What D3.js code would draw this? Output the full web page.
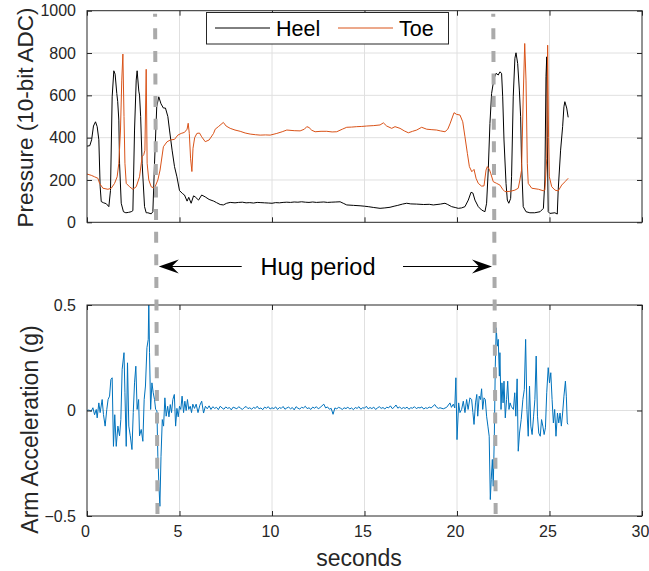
<!DOCTYPE html>
<html lang="en">
<head>
<meta charset="utf-8">
<title>Hug pressure and acceleration</title>
<script src="https://d3js.org/d3.v7.min.js"></script>
<style>
    body { margin: 0; background: #ffffff; }
    svg { display: block; font-family: "Liberation Sans", Arial, Helvetica, sans-serif; }
    .tick text { fill: #262626; font-size: 16px; }
    .tick line { stroke: #262626; }
    .domain { stroke: none; }
</style>
</head>
<body>
<div id="chart"></div>
<script>
"use strict";

// ---- data (seconds, value) ----
var heel = [
    [0,360],[0.15,362],[0.25,390],[0.35,455],[0.46,475],[0.55,452],[0.64,390],[0.71,170],[0.77,98],[0.9,92],
    [1.04,88],[1.18,74],[1.27,150],[1.36,593],[1.45,716],[1.52,700],[1.61,609],[1.66,570],[1.72,483],[1.76,279],
    [1.85,90],[1.97,50],[2.1,45],[2.25,47],[2.39,50],[2.48,55],[2.57,436],[2.66,672],[2.71,716],[2.8,620],
    [2.84,601],[2.9,500],[2.98,279],[3.11,74],[3.2,45],[3.29,45],[3.47,40],[3.56,50],[3.65,279],[3.77,546],
    [3.88,593],[4.0,560],[4.13,540],[4.24,540],[4.37,500],[4.46,436],[4.6,341],[4.73,263],[4.86,215],[5.0,150],
    [5.17,135],[5.27,129],[5.41,100],[5.5,118],[5.63,90],[5.76,125],[5.85,120],[6.03,105],[6.2,129],[6.39,120],
    [6.6,108],[6.85,100],[7.0,93],[7.2,84],[7.37,82],[7.55,90],[7.74,94],[8.0,92],[8.2,94],[8.4,95],
    [8.6,92],[8.8,93],[9.0,91],[9.2,94],[9.4,93],[9.6,92],[9.8,91],[10.0,90],[10.2,93],[10.4,92],
    [10.6,94],[10.8,95],[11.0,94],[11.2,96],[11.4,95],[11.6,97],[11.8,95],[12.0,94],[12.2,96],[12.4,94],
    [12.6,95],[12.8,96],[13.0,94],[13.2,95],[13.45,96],[13.68,97],[13.85,90],[14.04,82],[14.4,80],[14.76,78],
    [15.0,76],[15.2,74],[15.5,70],[15.84,66],[16.1,68],[16.38,71],[16.6,76],[16.8,80],[17.05,86],[17.28,90],
    [17.5,87],[17.82,86],[18.2,84],[18.5,85],[18.72,82],[19.1,86],[19.35,90],[19.5,84],[19.71,74],[19.9,70],
    [20.07,66],[20.25,68],[20.43,74],[20.61,105],[20.76,142],[20.86,138],[20.97,105],[21.15,74],[21.33,58],[21.51,50],
    [21.6,90],[21.69,247],[21.78,467],[21.87,609],[22.0,680],[22.11,704],[22.23,696],[22.32,711],[22.41,704],[22.47,593],
    [22.54,389],[22.65,184],[22.72,105],[22.8,90],[22.9,113],[22.95,215],[23.04,593],[23.13,775],[23.19,801],[23.28,750],
    [23.37,625],[23.44,499],[23.49,279],[23.58,74],[23.73,50],[23.94,45],[24.2,45],[24.49,50],[24.67,66],[24.75,200],
    [24.81,688],[24.85,782],[24.88,400],[24.93,50],[25.02,42],[25.29,45],[25.42,39],[25.47,152],[25.6,341],[25.71,452],
    [25.78,546],[25.83,570],[25.93,540],[26.01,496]
];

var toe = [
    [0,228],[0.23,222],[0.41,215],[0.59,208],[0.68,184],[0.86,161],[1.13,156],[1.31,161],[1.49,184],[1.63,215],
    [1.72,279],[1.81,436],[1.88,672],[1.94,795],[2.0,500],[2.05,279],[2.12,184],[2.3,168],[2.48,156],[2.66,168],
    [2.84,215],[2.98,310],[3.07,320],[3.13,340],[3.2,723],[3.25,279],[3.34,200],[3.47,168],[3.65,161],[3.83,200],
    [3.95,247],[4.13,357],[4.32,380],[4.5,389],[4.73,392],[4.91,412],[5.09,420],[5.27,425],[5.41,440],[5.47,468],
    [5.53,420],[5.6,300],[5.67,240],[5.73,350],[5.82,400],[5.94,420],[6.08,422],[6.2,404],[6.39,381],[6.6,389],
    [6.84,420],[6.93,440],[7.1,452],[7.37,472],[7.52,455],[7.74,444],[8.0,436],[8.28,430],[8.55,422],[8.82,417],
    [9.1,414],[9.36,412],[9.65,413],[9.9,412],[10.26,420],[10.55,428],[10.8,436],[11.2,433],[11.52,432],[11.75,440],
    [11.88,452],[12.0,448],[12.15,435],[12.33,428],[12.65,430],[12.96,430],[13.25,427],[13.5,428],[13.8,440],[14.04,449],
    [14.3,450],[14.58,452],[14.85,453],[15.12,455],[15.5,457],[15.84,460],[16.02,470],[16.2,455],[16.47,444],[16.65,452],
    [16.92,444],[17.15,432],[17.37,423],[17.6,430],[17.82,436],[18.09,449],[18.36,440],[18.6,438],[18.9,436],[19.1,432],
    [19.35,428],[19.5,440],[19.62,465],[19.84,518],[19.98,510],[20.16,507],[20.31,475],[20.43,404],[20.56,326],[20.67,263],
    [20.8,239],[20.92,250],[21.03,208],[21.15,184],[21.33,171],[21.46,172],[21.57,247],[21.64,263],[21.75,250],[21.82,232],
    [21.96,192],[22.14,184],[22.32,176],[22.47,156],[22.59,145],[22.86,146],[23.13,152],[23.31,161],[23.4,200],[23.49,247],
    [23.58,593],[23.66,845],[23.73,672],[23.8,279],[23.85,184],[24.04,161],[24.41,156],[24.66,149],[24.75,152],[24.85,300],
    [24.9,837],[24.95,400],[24.99,215],[25.12,168],[25.3,152],[25.47,148],[25.66,176],[25.84,192],[26.01,208]
];

// arm acceleration, before the hug
var accelStart = [
    [0,0],[0.1,0.002],[0.23,-0.003],[0.32,0.013],[0.41,-0.02],[0.5,0.005],[0.55,-0.035],[0.64,0.036],[0.71,-0.01],[0.82,0.052],
    [0.89,-0.019],[0.98,-0.074],[1.07,0.005],[1.14,0.052],[1.22,0.068],[1.29,0.147],[1.36,0.155],[1.43,-0.17],[1.5,-0.02],[1.58,-0.17],
    [1.67,-0.074],[1.76,-0.12],[1.83,-0.043],[1.9,0.195],[2.0,0.274],[2.05,0.084],[2.12,-0.17],[2.19,0.226],[2.26,-0.074],[2.34,-0.12],
    [2.43,-0.185],[2.5,-0.01],[2.57,0.131],[2.64,0.21],[2.71,0.005],[2.79,0.052],[2.84,-0.12],[2.93,-0.09],[3.02,-0.146],[3.09,0.052],
    [3.16,0.116],[3.24,0.298],[3.31,0.337],[3.34,0.52],[3.38,0.274],[3.44,0.005],[3.51,0.131],[3.58,0.084],[3.65,0.052],[3.71,0.005],
    [3.78,-0.001],[3.83,-0.217],[3.89,-0.359],[3.94,-0.454],[4.0,-0.217],[4.07,-0.043],[4.14,-0.074],[4.21,0.06],[4.28,-0.027],[4.36,0.02],
    [4.43,-0.03],[4.5,0.028],[4.57,-0.01],[4.64,0.052],[4.72,0.076],[4.79,-0.074],[4.86,0.01],[4.93,-0.03],[5.0,0.02],[5.07,0.005],
    [5.14,0.068],[5.22,-0.01],[5.29,0.044],[5.36,0.0],[5.43,0.052],[5.5,0.005],[5.58,0.02],[5.65,-0.01],[5.72,0.03],[5.81,0.01]
];

// during the hug: one reading every 0.1 s from 5.9 s
var accelHugStart = 5.9;
var accelHugStep = 0.1;
var accelHug = [
    0.03,-0.01,0.025,0.044,-0.012,0.02,0.008,0.022,0.005,0.018,
    0.01,0.015,0.004,0.02,0.012,0.006,0.017,0.01,0.014,0.003,
    0.016,0.012,0.008,0.018,0.011,0.005,0.014,0.019,0.009,0.013,
    0.006,0.015,0.01,0.02,0.008,0.012,0.004,0.016,0.011,0.018,
    0.007,0.013,0.009,0.017,0.005,0.014,0.01,0.019,0.006,0.012,
    0.016,0.008,0.014,0.003,0.018,0.011,0.007,0.015,0.012,0.02,
    0.009,0.013,0.005,0.016,0.011,0.018,0.008,0.014,0.022,0.03,
    0.012,0.017,0.006,0.01,-0.018,0.012,0.008,0.015,0.011,0.005,
    0.013,0.009,0.016,0.007,0.012,0.004,0.014,0.01,0.018,0.006,
    0.013,0.011,0.02,0.008,0.014,0.009,0.016,0.005,0.012,0.018,
    0.01,0.014,0.007,0.016,0.012,0.022,0.009,0.015,0.026,0.011,
    0.017,0.008,0.014,0.01,0.016,0.006,0.013,0.011,0.018,0.009,
    0.014,0.012,0.017,0.007,0.013,0.01,0.016,0.012,0.02,0.028,
    0.015,0.01
];

// after the hug
var accelEnd = [
    [19.08,0.013],[19.26,0.008],[19.44,0.015],[19.62,0.036],[19.7,0.015],[19.8,0.03],[19.88,0.012],[19.94,0.155],[20.0,-0.138],[20.09,0.036],
    [20.16,-0.01],[20.25,0.005],[20.34,0.044],[20.43,-0.01],[20.52,0.052],[20.6,0.005],[20.7,0.06],[20.79,0.052],[20.86,-0.01],[20.92,-0.066],
    [21.0,0.036],[21.07,0.076],[21.12,-0.027],[21.2,0.068],[21.27,0.052],[21.33,0.103],[21.39,0.005],[21.46,0.06],[21.53,0.052],[21.6,-0.027],
    [21.67,-0.074],[21.74,-0.122],[21.8,-0.422],[21.85,-0.327],[21.91,-0.232],[21.96,-0.359],[22.02,-0.107],[22.07,0.21],[22.12,0.392],[22.18,0.305],
    [22.23,0.337],[22.29,0.163],[22.32,0.274],[22.38,0.005],[22.43,0.131],[22.49,0.036],[22.54,0.139],[22.61,-0.035],[22.68,0.052],[22.74,0.139],
    [22.81,0.005],[22.87,0.036],[22.93,0.02],[22.99,0.012],[23.05,0.005],[23.12,0.084],[23.18,-0.027],[23.25,0.15],[23.31,-0.193],[23.38,-0.107],
    [23.47,-0.043],[23.56,0.052],[23.64,0.1],[23.71,0.337],[23.78,0.005],[23.85,-0.122],[23.92,0.116],[23.99,-0.074],[24.06,-0.114],[24.14,-0.027],
    [24.21,0.052],[24.28,0.258],[24.35,-0.027],[24.42,-0.107],[24.5,-0.122],[24.57,-0.043],[24.64,-0.074],[24.71,-0.114],[24.78,-0.082],[24.85,0.084],
    [24.93,0.203],[25.0,0.131],[25.07,0.179],[25.14,0.052],[25.21,-0.059],[25.28,0.005],[25.35,-0.122],[25.43,-0.012],[25.5,-0.059],[25.57,-0.012],
    [25.64,-0.074],[25.71,-0.012],[25.78,0.068],[25.86,0.139],[25.91,0.068],[25.96,-0.059],[26.0,-0.066]
];

var xTicks = [0, 5, 10, 15, 20, 25, 30];
var pressureTicks = [0, 200, 400, 600, 800, 1000];
var accelTicks = [-0.5, 0, 0.5];
var seriesNames = ["Heel", "Toe"];
var hugStart = [3.68, 3.81];   // x of the dashed marker at top and bottom
var hugEnd = [21.96, 22.09];

// ---- layout ----
var width = 649, height = 571;
var left = 87, right = 642;
var topBox = { y0: 10.7, y1: 222.3 };
var botBox = { y0: 305, y1: 516 };

var colors = { Heel: "#000000", Toe: "#D95319", accel: "#0072BD" };
var gridColor = "#e0e0e0";
var axisColor = "#262626";

var svg = d3.select("#chart").append("svg")
    .attr("width", width)
    .attr("height", height);

var x = d3.scaleLinear().domain([0, 30]).range([left, right]);
var yP = d3.scaleLinear().domain([0, 1000]).range([topBox.y1, topBox.y0]);
var yA = d3.scaleLinear().domain([-0.5, 0.5]).range([botBox.y1, botBox.y0]);

var accel = accelStart
    .concat(accelHug.map(function(v, i) { return [accelHugStart + i * accelHugStep, v]; }))
    .concat(accelEnd);

function drawPanel(name, yScale, yTicks, box) {
    var g = svg.append("g").attr("class", name);

    // grid
    g.append("g").selectAll("line").data(xTicks.slice(1, -1)).enter().append("line")
        .attr("x1", function(d) { return x(d); }).attr("x2", function(d) { return x(d); })
        .attr("y1", box.y0).attr("y2", box.y1)
        .attr("stroke", gridColor).attr("stroke-width", 1);
    g.append("g").selectAll("line").data(yTicks.slice(1, -1)).enter().append("line")
        .attr("y1", function(d) { return yScale(d); }).attr("y2", function(d) { return yScale(d); })
        .attr("x1", left).attr("x2", right)
        .attr("stroke", gridColor).attr("stroke-width", 1);

    g.append("clipPath").attr("id", "clip-" + name)
        .append("rect")
        .attr("x", left).attr("y", box.y0)
        .attr("width", right - left).attr("height", box.y1 - box.y0);

    return g;
}

function drawAxes(yScale, yTicks, fmt, box, showX) {
    var g = svg.append("g");
    var bottomAxis = d3.axisBottom(x).tickValues(xTicks).tickSize(-5).tickSizeOuter(0).tickPadding(10);
    if (!showX) bottomAxis.tickFormat("");
    g.append("g").attr("transform", "translate(0," + box.y1 + ")").call(bottomAxis)
        .selectAll(".tick text").attr("x", -2);
    g.append("g").attr("transform", "translate(0," + box.y0 + ")")
        .call(d3.axisTop(x).tickValues(xTicks).tickSize(-5).tickSizeOuter(0).tickFormat(""));
    g.append("g").attr("transform", "translate(" + left + ",0)")
        .call(d3.axisLeft(yScale).tickValues(yTicks).tickSize(-5).tickSizeOuter(0).tickPadding(11).tickFormat(fmt));
    g.append("g").attr("transform", "translate(" + right + ",0)")
        .call(d3.axisRight(yScale).tickValues(yTicks).tickSize(-5).tickSizeOuter(0).tickFormat(""));
    g.append("rect")
        .attr("x", left).attr("y", box.y0)
        .attr("width", right - left).attr("height", box.y1 - box.y0)
        .attr("fill", "none").attr("stroke", axisColor).attr("stroke-width", 1);
}

// ---- top: pressure ----
var pressurePanel = drawPanel("pressure", yP, pressureTicks, topBox);
var lineP = d3.line().x(function(d) { return x(d[0]); }).y(function(d) { return yP(d[1]); });
pressurePanel.append("path").datum(heel)
    .attr("d", lineP).attr("fill", "none")
    .attr("stroke", colors.Heel).attr("stroke-width", 1)
    .attr("clip-path", "url(#clip-pressure)");
pressurePanel.append("path").datum(toe)
    .attr("d", lineP).attr("fill", "none")
    .attr("stroke", colors.Toe).attr("stroke-width", 1)
    .attr("clip-path", "url(#clip-pressure)");
drawAxes(yP, pressureTicks, d3.format("d"), topBox, false);

// ---- bottom: acceleration ----
var accelFmt = function(d) { return d === 0 ? "0" : d3.format(".1f")(d); };
var accelPanel = drawPanel("accel", yA, accelTicks, botBox);
var lineA = d3.line().x(function(d) { return x(d[0]); }).y(function(d) { return yA(d[1]); });
accelPanel.append("path").datum(accel)
    .attr("d", lineA).attr("fill", "none")
    .attr("stroke", colors.accel).attr("stroke-width", 1)
    .attr("clip-path", "url(#clip-accel)");
drawAxes(yA, accelTicks, accelFmt, botBox, true);

// ---- legend ----
var legend = svg.append("g");
legend.append("rect")
    .attr("x", 206.5).attr("y", 12.5).attr("width", 242).attr("height", 31.5)
    .attr("fill", "#ffffff").attr("stroke", axisColor).attr("stroke-width", 1);
var legX = [215, 338];
seriesNames.forEach(function(name, i) {
    legend.append("line")
        .attr("x1", legX[i]).attr("x2", legX[i] + 55)
        .attr("y1", 28).attr("y2", 28)
        .attr("stroke", colors[name]).attr("stroke-width", 1);
    legend.append("text")
        .attr("x", legX[i] + 61).attr("y", 36)
        .attr("font-size", "21.5px").attr("fill", "#000")
        .text(name);
});

// ---- axis titles ----
svg.append("text")
    .attr("transform", "translate(33," + ((topBox.y0 + topBox.y1) / 2 + 1) + ") rotate(-90)")
    .attr("text-anchor", "middle").attr("font-size", "22.5px").attr("fill", axisColor)
    .text("Pressure (10-bit ADC)");
svg.append("text")
    .attr("transform", "translate(38," + ((botBox.y0 + botBox.y1) / 2 + 19) + ") rotate(-90)")
    .attr("text-anchor", "middle").attr("font-size", "23px").attr("fill", axisColor)
    .text("Arm Acceleration (g)");
svg.append("text")
    .attr("x", 359).attr("y", 566)
    .attr("text-anchor", "middle").attr("font-size", "23px").attr("fill", axisColor)
    .text("seconds");

// ---- hug period markers ----
var marks = svg.append("g");
[hugStart, hugEnd].forEach(function(h) {
    marks.append("line")
        .attr("x1", x(h[0])).attr("y1", topBox.y0 + 3)
        .attr("x2", x(h[1])).attr("y2", botBox.y1)
        .attr("stroke", "#aaaaaa").attr("stroke-width", 4)
        .attr("stroke-dasharray", "11,11.6")
        .attr("stroke-dashoffset", 8);
});

var arrowY = 266.5;
function xAt(h, y) {
    var f = (y - topBox.y0) / (botBox.y1 - topBox.y0);
    return x(h[0] + (h[1] - h[0]) * f);
}
function arrow(x0, x1) {
    var dir = x1 > x0 ? 1 : -1;
    marks.append("line")
        .attr("x1", x0).attr("x2", x1 - dir * 12)
        .attr("y1", arrowY).attr("y2", arrowY)
        .attr("stroke", "#000").attr("stroke-width", 1.2);
    var p = d3.path();
    p.moveTo(x1, arrowY);
    p.lineTo(x1 - dir * 20, arrowY - 7);
    p.lineTo(x1 - dir * 13, arrowY);
    p.lineTo(x1 - dir * 20, arrowY + 7);
    p.closePath();
    marks.append("path").attr("d", p.toString()).attr("fill", "#000");
}
arrow(241.7, xAt(hugStart, arrowY) + 2.5);
arrow(403, xAt(hugEnd, arrowY) - 2.5);

marks.append("text")
    .attr("x", 318).attr("y", 274.5)
    .attr("text-anchor", "middle").attr("font-size", "23.5px").attr("fill", "#000")
    .text("Hug period");
</script>
</body>
</html>
